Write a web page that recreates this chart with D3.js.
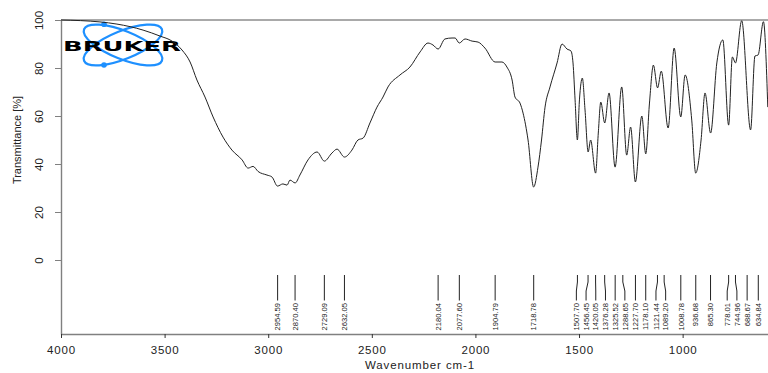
<!DOCTYPE html>
<html>
<head>
<meta charset="utf-8">
<script src="https://cdn.jsdelivr.net/npm/d3@7"></script>
<style>
  html, body { margin: 0; padding: 0; background: #fff; }
  svg { display: block; font-family: "Liberation Sans", Arial, sans-serif; }
</style>
</head>
<body>
<svg id="chart" width="768" height="373"></svg>
<script>
// IR spectrum: wavenumber (cm-1) and transmittance (%)
const wavenumber = [4000, 3812, 3730, 3604, 3522, 3464, 3416, 3377, 3344, 3305, 3266, 3218, 3175,
  3126, 3097, 3073, 3049, 3006, 2982, 2955, 2929, 2909, 2895, 2870, 2847, 2808, 2764, 2729, 2692,
  2668, 2632, 2596, 2567, 2542, 2509, 2475, 2446, 2422, 2364, 2316, 2267, 2229, 2205, 2180, 2147,
  2113, 2098, 2078, 2050, 2016, 1987, 1954, 1905, 1872, 1848, 1823, 1809, 1785, 1770, 1746, 1719,
  1698, 1681, 1664, 1640, 1606, 1582, 1558, 1539, 1529, 1519, 1508, 1498, 1484, 1471, 1456, 1444,
  1420, 1407, 1395, 1376, 1355, 1326, 1294, 1270, 1251, 1228, 1197, 1178, 1160, 1141, 1121, 1103,
  1070, 1041, 1009, 988, 956, 937, 911, 892, 865, 835, 806, 778, 760, 745, 715, 672, 651, 636, 610, 589];
const transmittance = [100, 99.2, 98.3, 95.8, 93.3, 91.2, 87.5, 82.5, 75, 67.9, 59.6, 51.2, 45.8,
  41.7, 38.3, 39, 36.9, 35.4, 34.6, 30.8, 31.7, 31.2, 33.3, 32.1, 35.4, 41.7, 45, 41.2, 44.6,
  46.2, 42.9, 45.8, 50, 50.8, 57.1, 63.7, 67.9, 72.1, 77.1, 80.4, 86.7, 90.4, 89.6, 87.9, 92.1,
  92.5, 92.5, 90.4, 92.1, 91.2, 90.8, 88.3, 82.5, 82.5, 80.4, 75, 67.9, 65.4, 61.2, 50, 30.4,
  38.7, 50, 63.7, 72.1, 82.1, 90, 87.9, 87.1, 82.1, 66.7, 50, 66.7, 75.8, 62.5, 45, 50,
  36.2, 52.9, 65.8, 57.1, 69.6, 38.7, 72.1, 43.7, 55.4, 32.5, 60, 44.2, 65.4, 81.2, 71.7, 78.7,
  55, 88.3, 59.6, 77.1, 58.3, 36.2, 50, 69.6, 52.9, 82.1, 91.7, 56.2, 84.6, 82.1, 99.7, 54.2, 85, 85.4, 99.3, 63.7];

// Picked peak positions (cm-1)
const peakPositions = [2954.59, 2870.40, 2729.09, 2632.05, 2180.04, 2077.60, 1904.79, 1718.78,
  1507.70, 1456.45, 1420.05, 1376.28, 1325.52, 1288.65, 1227.70, 1178.10, 1121.44, 1089.20,
  1008.78, 936.68, 865.30, 778.01, 744.96, 688.67, 634.84];

const xTickValues = [4000, 3500, 3000, 2500, 2000, 1500, 1000];
const yTickValues = [0, 20, 40, 60, 80, 100];

const plot = { left: 61, right: 768, top: 20, bottom: 334 };
const svg = d3.select("#chart");

const x = d3.scaleLinear().domain([4000, 588]).range([plot.left, plot.right]);
const y = d3.scaleLinear().domain([0, 100]).range([260, 20]);
const yAxisScale = d3.scaleLinear().domain([y.invert(plot.bottom), 100]).range([plot.bottom, plot.top]);

// Bruker logo
const logo = svg.append("g").attr("class", "logo");
[-22, 22].forEach(a => {
  logo.append("ellipse")
    .attr("cx", 0).attr("cy", 0).attr("rx", 42).attr("ry", 14)
    .attr("transform", `translate(123,45) rotate(${a})`)
    .attr("fill", "none").attr("stroke", "#1e90ff").attr("stroke-width", 2.2);
});
[[104, 24.3], [104, 65]].forEach(([cx, cy]) => {
  logo.append("circle").attr("cx", cx).attr("cy", cy).attr("r", 2.8).attr("fill", "#1e90ff");
});
logo.append("text")
  .attr("x", 63).attr("y", 50.5)
  .attr("textLength", 118).attr("lengthAdjust", "spacingAndGlyphs")
  .style("font-family", "'DejaVu Sans', 'Liberation Sans', sans-serif")
  .style("font-weight", "bold").style("font-size", "14.5px")
  .attr("fill", "#000")
  .text("BRUKER");

// Top frame line
svg.append("line")
  .attr("x1", plot.left).attr("x2", plot.right)
  .attr("y1", y(100)).attr("y2", y(100))
  .attr("stroke", "#555").attr("stroke-width", 1);

// Left axis
const yAxis = svg.append("g")
  .attr("transform", `translate(${plot.left},0)`)
  .call(d3.axisLeft(yAxisScale).tickValues(yTickValues).tickSize(6).tickSizeOuter(0));
yAxis.select(".domain").attr("stroke", "#808080").attr("stroke-width", 1.4);
yAxis.selectAll(".tick line").attr("stroke", "#808080");
yAxis.selectAll(".tick text")
  .attr("x", 0).attr("dy", 0)
  .attr("transform", "translate(-18,0) rotate(-90)")
  .attr("text-anchor", "middle")
  .attr("fill", "#222")
  .style("font-size", "11.5px");

// Bottom axis
const xAxis = svg.append("g")
  .attr("transform", `translate(0,${plot.bottom})`)
  .call(d3.axisBottom(x).tickValues(xTickValues).tickFormat(d3.format("d")).tickSize(4).tickPadding(8).tickSizeOuter(0));
xAxis.select(".domain").attr("stroke", "#808080").attr("stroke-width", 1.4);
xAxis.selectAll(".tick line").attr("stroke", "#333");
xAxis.selectAll(".tick text")
  .attr("fill", "#222")
  .style("font-size", "11.5px")
  .style("letter-spacing", "0.8px");

// Axis titles
svg.append("text")
  .attr("x", 420).attr("y", 369)
  .attr("text-anchor", "middle")
  .attr("fill", "#222")
  .style("font-size", "11.5px").style("letter-spacing", "0.9px")
  .text("Wavenumber cm-1");
svg.append("text")
  .attr("transform", `translate(21,${(plot.top + 260) / 2}) rotate(-90)`)
  .attr("text-anchor", "middle")
  .attr("fill", "#222")
  .style("font-size", "11px")
  .text("Transmittance [%]");

// Spectrum
const spectrum = wavenumber.map((w, i) => ({ w, t: transmittance[i] }));
svg.append("path")
  .datum(spectrum)
  .attr("fill", "none")
  .attr("stroke", "#222")
  .attr("stroke-width", 1)
  .attr("d", d3.line().x(d => x(d.w)).y(d => y(d.t)).curve(d3.curveMonotoneX));

// Peak labels: spread crowded labels apart, keeping each group centred
const gap = 9.7;
const items = peakPositions.map(p => ({ p, tx: x(p) })).sort((a, b) => a.tx - b.tx);
let groups = items.map(it => [it]);
function place(g) {
  const mean = d3.mean(g, d => d.tx);
  const start = mean - (g.length - 1) * gap / 2;
  g.forEach((d, i) => d.lx = start + i * gap);
}
groups.forEach(place);
let merged = true;
while (merged) {
  merged = false;
  for (let i = 0; i < groups.length - 1; i++) {
    const a = groups[i], b = groups[i + 1];
    if (a[a.length - 1].lx + gap > b[0].lx + 1e-6) {
      groups.splice(i, 2, a.concat(b));
      place(groups[i]);
      merged = true;
      break;
    }
  }
}
const peaks = svg.append("g").attr("class", "peaks");
peaks.selectAll("path")
  .data(items)
  .join("path")
  .attr("fill", "none").attr("stroke", "#222").attr("stroke-width", 1)
  .attr("d", d => `M${d.tx},275V282L${d.lx},291V300.5`);
peaks.selectAll("text")
  .data(items)
  .join("text")
  .attr("transform", d => `translate(${d.lx + 2.7},303) rotate(-90)`)
  .attr("text-anchor", "end")
  .attr("fill", "#222")
  .style("font-size", "7.6px")
  .text(d => d3.format(".2f")(d.p));
</script>
</body>
</html>
